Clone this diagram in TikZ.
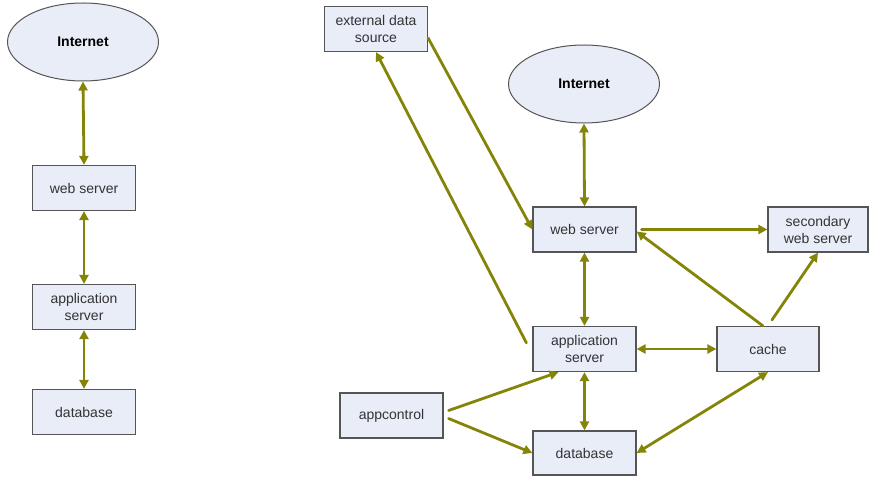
\documentclass[tikz,border=0pt]{standalone}
\usepackage{fontspec}
\setmainfont{Liberation Sans}
\usepackage{xcolor}
\usetikzlibrary{shapes.geometric, positioning, arrows.meta, calc}

\definecolor{linkolive}{RGB}{132,132,8}
\definecolor{boxfill}{RGB}{232,237,248}
\definecolor{boxline}{RGB}{85,85,85}

\tikzset{
  srvbox/.style={draw=boxline, line width=1.2pt, fill=boxfill, minimum width=103pt,
    minimum height=45pt, inner sep=0pt, align=center, text=black!80,
    font=\fontsize{14}{17}\selectfont},
  cloud/.style={ellipse, draw=boxline, line width=1pt, fill=boxfill, minimum width=151pt,
    minimum height=78pt, inner sep=0pt, font=\fontsize{14}{17}\selectfont\bfseries},
  link/.style={draw=linkolive, line width=2.8pt, line cap=round,
    -{Triangle[length=9pt,width=9pt]}},
  biglink/.style={link, {Triangle[length=9pt,width=9pt]}-{Triangle[length=9pt,width=9pt]}}
}

\begin{document}
\begin{tikzpicture}[x=1pt, y=-1pt]
  \useasboundingbox (0,0) rectangle (869,478);

  % single server setup
  \node[cloud] (netL) at (83,42) {Internet};
  \node[srvbox] (webL) at (84,188) {web server};
  \node[srvbox] (appL) at (84,307) {application\\server};
  \node[srvbox] (dbL) at (84,412) {database};

  \draw[biglink] (netL.south) -- (webL.north);
  \draw[biglink] (webL.south) -- (appL.north);
  \draw[biglink] (appL.south) -- (dbL.north);

  % extended setup
  \node[srvbox] (ext) at (376,29) {external data\\source};
  \node[cloud] (netR) at (584,84) {Internet};
  \node[srvbox] (webR) at (584.5,229.5) {web server};
  \node[srvbox, minimum width=100pt] (sec) at (818,229.5) {secondary\\web server};
  \node[srvbox] (appR) at (584.5,349) {application\\server};
  \node[srvbox, minimum width=102pt] (cache) at (768,349) {cache};
  \node[srvbox, minimum height=44pt] (dbR) at (584.5,453) {database};
  \node[srvbox] (ctl) at (391.5,415.5) {appcontrol};

  \draw[biglink] (netR.south) -- (webR.north);
  \draw[link] ([yshift=-9pt]ext.east) -- (webR.west);
  \draw[link] ($(appR.north west)+(-6,17)$) -- (ext.south);
  \draw[link] ([xshift=5pt]webR.east) -- (sec.west);
  \draw[link] ([xshift=-5pt]cache.north) -- ([yshift=-2pt]webR.east);
  \draw[link] ([xshift=4pt,yshift=6pt]cache.north) -- (sec.south);
  \draw[biglink] (webR.south) -- (appR.north);
  \draw[biglink] (appR.east) -- (cache.west);
  \draw[biglink] (appR.south) -- (dbR.north);
  \draw[biglink] (dbR.east) -- (cache.south);
  \draw[link] ([xshift=5pt,yshift=5pt]ctl.east) -- ([xshift=-26pt]appR.south);
  \draw[link] ([xshift=5pt,yshift=-3pt]ctl.east) -- (dbR.west);
\end{tikzpicture}
\end{document}
